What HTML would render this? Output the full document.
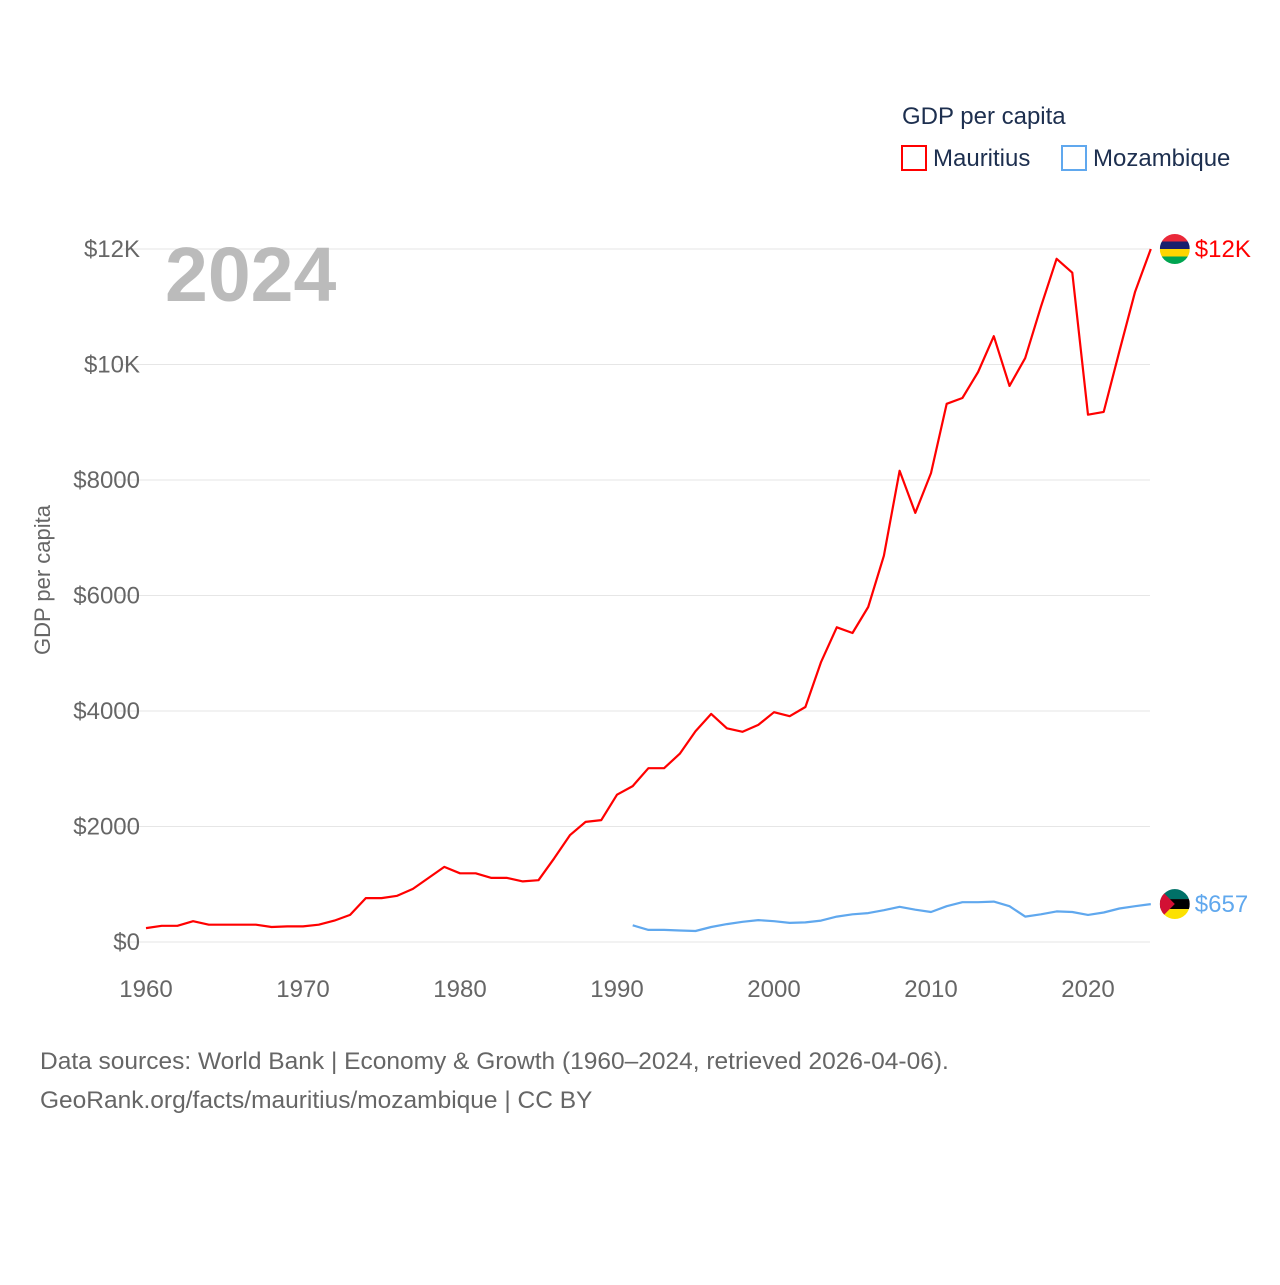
<!DOCTYPE html>
<html><head><meta charset="utf-8"><style>
body{margin:0;background:#fff;font-family:"Liberation Sans",sans-serif}
svg text{font-family:"Liberation Sans",sans-serif}
</style></head><body>
<svg id="chart" width="1280" height="1280" viewBox="0 0 1280 1280">
<rect width="1280" height="1280" fill="#fff"/>
<g id="grid"></g><g id="yticks"></g><g id="xticks"></g>
<text x="165" y="301" font-size="77" font-weight="bold" fill="#bbb">2024</text>
<text transform="translate(50,580) rotate(-90)" text-anchor="middle" font-size="22" fill="#666">GDP per capita</text>
<text x="902" y="124" font-size="24" fill="#1d2f4f">GDP per capita</text>
<g><rect x="902" y="146" width="24" height="24" fill="none" stroke="#f00" stroke-width="2"/><text x="933" y="166" font-size="24" fill="#1d2f4f">Mauritius</text></g>
<g><rect x="1062" y="146" width="24" height="24" fill="none" stroke="#60a8ee" stroke-width="2"/><text x="1093" y="166" font-size="24" fill="#1d2f4f">Mozambique</text></g>
<g id="series"></g>
<text x="40" y="1069" font-size="24.5" fill="#666">Data sources: World Bank | Economy &amp; Growth (1960–2024, retrieved 2026-04-06).</text>
<text x="40" y="1108" font-size="24.5" fill="#666">GeoRank.org/facts/mauritius/mozambique | CC BY</text>
</svg>
<script>
const yTicks=[0,2000,4000,6000,8000,10000,12000];
const yTickLabels=["$0","$2000","$4000","$6000","$8000","$10K","$12K"];
const xTicks=[1960,1970,1980,1990,2000,2010,2020];
const mauritiusStart=1960;
const mauritius=[240,280,280,360,300,300,300,300,260,270,270,300,370,470,760,760,800,920,1110,1300,1190,1190,1110,1110,1050,1070,1450,1850,2080,2110,2550,2700,3010,3010,3260,3650,3950,3700,3640,3760,3980,3910,4070,4850,5450,5350,5800,6690,8160,7430,8120,9320,9420,9870,10490,9630,10110,11000,11830,11590,9130,9180,10230,11260,12000];
const mozambiqueStart=1991;
const mozambique=[290,210,210,200,190,260,310,350,380,360,330,340,370,440,480,500,550,610,560,520,620,690,690,700,620,440,480,530,520,470,510,580,620,657];
const endLabels=["$12K","$657"];
const X=y=>146+(y-1960)*942/60;
const Y=v=>942-v*693/12000;
const ns="http://www.w3.org/2000/svg";
function mk(t,a,p){const e=document.createElementNS(ns,t);for(const k in a)e.setAttribute(k,a[k]);p.appendChild(e);return e;}
const grid=document.getElementById('grid'),yt=document.getElementById('yticks'),xt=document.getElementById('xticks'),ser=document.getElementById('series');
yTicks.forEach((v,i)=>{
 const l=mk('line',{x1:118,x2:1150,y1:Y(v),y2:Y(v),stroke:'#e6e6e6','stroke-width':1},grid);
 
 
 const t=mk('text',{x:140,y:Y(v)+8,'text-anchor':'end','font-size':24,fill:'#666'},yt);t.textContent=yTickLabels[i];
 
 
});
xTicks.forEach(v=>{
 const t=mk('text',{x:X(v),y:997,'text-anchor':'middle','font-size':24,fill:'#666'},xt);t.textContent=v;
 
 
});
function line(data,start,color,name){
 const d=data.map((v,i)=>(i?'L':'M')+X(start+i).toFixed(1)+','+Y(v).toFixed(1)).join('');
 const p=mk('path',{d:d,fill:'none',stroke:color,'stroke-width':2.2,'stroke-linejoin':'round'},ser);
 
 
}
line(mauritius,mauritiusStart,'#f00','mauritius-line');
line(mozambique,mozambiqueStart,'#60a8ee','mozambique-line');
const mEnd=mauritius[mauritius.length-1], zEnd=mozambique[mozambique.length-1], xe=X(2024);
const f1=mk('g',{},ser);


const cy1=Y(mEnd);
['#ea2839','#1a206d','#ffd500','#00a551'].forEach((c,i)=>mk('rect',{x:xe+9,y:cy1-15+i*7.5,width:30,height:7.5,fill:c},f1));
const t1=mk('text',{x:xe+44,y:cy1+8,'font-size':24,fill:'#f00'},ser);t1.textContent=endLabels[0];


const cy2=Y(zEnd);
const f2=mk('g',{},ser);


mk('rect',{x:xe+9,y:cy2-15,width:30,height:10,fill:'#007168'},f2);
mk('rect',{x:xe+9,y:cy2-5,width:30,height:10,fill:'#000'},f2);
mk('rect',{x:xe+9,y:cy2+5,width:30,height:10,fill:'#fce100'},f2);
mk('path',{d:`M${xe+9},${cy2-15}L${xe+24},${cy2}L${xe+9},${cy2+15}Z`,fill:'#d21034'},f2);
const t2=mk('text',{x:xe+44,y:cy2+8,'font-size':24,fill:'#60a8ee'},ser);t2.textContent=endLabels[1];


[[f1,cy1],[f2,cy2]].forEach(([g,cy],i)=>{
 const cp=mk('clipPath',{id:'fc'+i},document.getElementById('chart'));
 mk('circle',{cx:xe+24,cy:cy,r:15},cp);
 g.setAttribute('clip-path','url(#fc'+i+')');
});
</script>
</body></html>
